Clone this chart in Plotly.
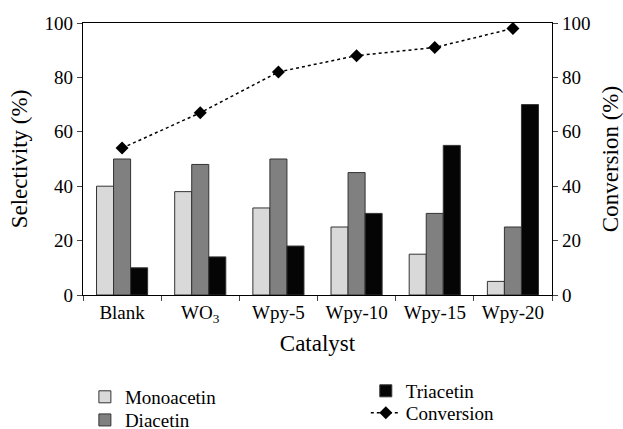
import plotly.graph_objects as go

catalysts = ['Blank', 'WO<sub>3</sub>', 'Wpy-5', 'Wpy-10', 'Wpy-15', 'Wpy-20']
monoacetin = [40, 38, 32, 25, 15, 5]
diacetin = [50, 48, 50, 45, 30, 25]
triacetin = [10, 14, 18, 30, 55, 70]
conversion = [54, 67, 82, 88, 91, 98]

FONT = 'Liberation Serif'
bar_line = dict(color='#333333', width=1)

fig = go.Figure()

# each series gets its own legend box so the two columns can be placed freely
fig.add_trace(go.Bar(x=catalysts, y=monoacetin, name='Monoacetin',
                     marker=dict(color='#d9d9d9', line=bar_line), legend='legend'))
fig.add_trace(go.Bar(x=catalysts, y=diacetin, name='Diacetin',
                     marker=dict(color='#808080', line=bar_line), legend='legend2'))
fig.add_trace(go.Bar(x=catalysts, y=triacetin, name='Triacetin',
                     marker=dict(color='#050505', line=bar_line), legend='legend3'))
fig.add_trace(go.Scatter(x=catalysts, y=conversion, name='Conversion', yaxis='y2',
                         mode='lines+markers',
                         line=dict(color='black', width=1.5, dash='dot'),
                         marker=dict(symbol='diamond', size=10, color='black'),
                         legend='legend4'))


def leg(x, y):
    return dict(orientation='v', x=x, xanchor='left', y=y, yanchor='top',
                font=dict(size=19), bgcolor='rgba(0,0,0,0)')


fig.update_layout(
    width=623, height=429,
    margin=dict(l=83, r=71, t=23, b=134, autoexpand=False),
    plot_bgcolor='white', paper_bgcolor='white',
    font=dict(family=FONT, size=19, color='black'),
    barmode='group', bargap=0.346, bargroupgap=0,
    xaxis=dict(
        title=dict(text='Catalyst', standoff=10),
        tickson='boundaries', ticks='outside', ticklen=5,
        showline=True, linecolor='black', linewidth=1.2, mirror=True,
    ),
    yaxis=dict(
        title=dict(text='Selectivity (%)', standoff=10),
        range=[0, 100], dtick=20, ticks='outside', ticklen=5,
        showline=True, linecolor='black', linewidth=1.2,
        showgrid=False, zeroline=False,
    ),
    yaxis2=dict(
        title=dict(text='Conversion (%)', standoff=14),
        overlaying='y', side='right',
        range=[0, 100], dtick=20, ticks='outside', ticklen=5,
        showline=True, linecolor='black', linewidth=1.2,
        showgrid=False, zeroline=False,
    ),
    legend=leg(0.004, -0.305),
    legend2=leg(0.004, -0.390),
    legend3=leg(0.603, -0.283),
    legend4=leg(0.603, -0.364),
    showlegend=True,
)

# drop the browser's default 8px body margin so the figure sits at the page corner
fig.write_html('out.html', config={'displayModeBar': False},
               post_script="document.body.style.margin='0';")
